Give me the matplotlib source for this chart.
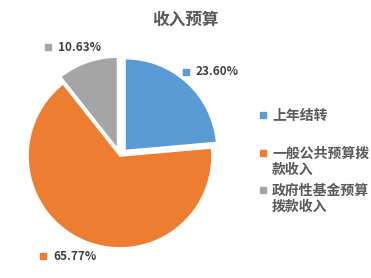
import matplotlib
matplotlib.use('Agg')
import matplotlib.pyplot as plt
from matplotlib.lines import Line2D

plt.rcParams['font.family'] = ['Noto Sans CJK SC', 'DejaVu Sans']

title = '收入预算'
categories = ['上年结转', '一般公共预算拨款收入', '政府性基金预算拨款收入']
legend_labels = ['上年结转', '一般公共预算拨\n款收入', '政府性基金预算\n拨款收入']
shares = [23.60, 65.77, 10.63]
colors = ['#5B9BD5', '#ED7D31', '#A5A5A5']
explode = [0.08, 0, 0.08]

W, H = 371, 278
fig = plt.figure(figsize=(W / 100, H / 100), dpi=100)

def px(x, y):
    # pixel position (from top-left) -> figure fraction
    return x / W, 1 - y / H

# pie centre at (120,156) px, radius 92 px
cx, cy, r = 120, 156, 92
ax = fig.add_axes([(cx - r) / W, (H - cy - r) / H, 2 * r / W, 2 * r / H])
ax.pie(shares, colors=colors, explode=explode, startangle=90, counterclock=False,
       radius=1, wedgeprops=dict(edgecolor='white', linewidth=1.2))
ax.set_xlim(-1, 1)
ax.set_ylim(-1, 1)
ax.axis('off')
for p in ax.patches:
    p.set_clip_on(False)

fig.text(*px(185, 20), title, ha='center', va='center', fontsize=12,
         fontweight='bold', color='#595959')

# data labels
label_pos = [(186, 72), (43, 256), (48, 47)]
for (x, y), v, c in zip(label_pos, shares, colors):
    fig.add_artist(Line2D([px(x, y)[0]], [px(x, y)[1]], marker='s', markersize=4,
                          color=c, transform=fig.transFigure))
    fig.text(*px(x + 10, y), f'{v:.2f}%', ha='left', va='center', fontsize=8.5,
             fontweight='bold', color='#404040')

# legend, one text per line so the spacing matches
leg_y = [115, 153, 190]
for y, lab, c in zip(leg_y, legend_labels, colors):
    fig.add_artist(Line2D([px(263, y)[0]], [px(263, y)[1]], marker='s', markersize=5,
                          color=c, transform=fig.transFigure))
    for i, line in enumerate(lab.split('\n')):
        fig.text(*px(272, y + 1 + i * 16), line, ha='left', va='center', fontsize=10,
                 fontweight='bold', color='#595959')

fig.savefig('out.png', dpi=100)
